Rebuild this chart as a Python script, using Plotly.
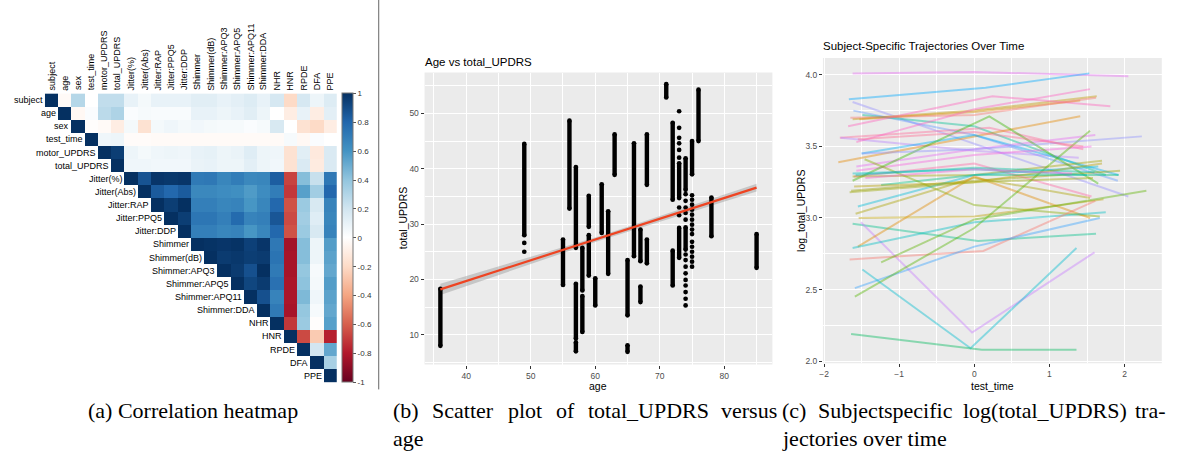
import plotly.graph_objects as go

# ---------------- (a) correlation heatmap data ----------------
var_names = ["subject", "age", "sex", "test_time", "motor_UPDRS", "total_UPDRS",
             "Jitter(%)", "Jitter(Abs)", "Jitter:RAP", "Jitter:PPQ5", "Jitter:DDP",
             "Shimmer", "Shimmer(dB)", "Shimmer:APQ3", "Shimmer:APQ5", "Shimmer:APQ11",
             "Shimmer:DDA", "NHR", "HNR", "RPDE", "DFA", "PPE"]

# upper triangle rows, starting at the diagonal
r_subject = [1, -0.03, 0.29, 0.0, 0.25, 0.25, 0.10, 0.05, 0.10, 0.10, 0.10, 0.13, 0.13, 0.10, 0.12, 0.15, 0.10, 0.18, -0.20, 0.18, 0.08, 0.15]
r_age = [1, -0.04, 0.02, 0.27, 0.31, 0.02, 0.04, 0.03, 0.03, 0.03, 0.10, 0.10, 0.08, 0.10, 0.13, 0.08, 0.0, -0.10, 0.10, -0.10, 0.12]
r_sex = [1, -0.01, -0.03, -0.10, 0.05, -0.16, 0.05, 0.07, 0.05, 0.06, 0.05, 0.04, 0.04, 0.02, 0.04, 0.17, 0.0, -0.16, -0.20, -0.10]
r_test_time = [1, 0.07, 0.08, -0.02, -0.02, -0.03, -0.03, -0.03, -0.03, -0.03, -0.03, -0.03, -0.03, -0.03, -0.03, 0.04, -0.04, 0.02, 0.0]
r_motor = [1, 0.95, 0.08, 0.05, 0.07, 0.08, 0.07, 0.10, 0.11, 0.08, 0.09, 0.14, 0.08, 0.07, -0.16, 0.13, -0.12, 0.16]
r_total = [1, 0.07, 0.07, 0.06, 0.06, 0.06, 0.09, 0.10, 0.08, 0.08, 0.12, 0.08, 0.06, -0.16, 0.16, -0.11, 0.16]
r_jit = [1, 0.87, 0.98, 0.97, 0.98, 0.71, 0.72, 0.66, 0.70, 0.65, 0.66, 0.83, -0.68, 0.43, 0.23, 0.72]
r_jitabs = [1, 0.84, 0.79, 0.84, 0.65, 0.65, 0.63, 0.62, 0.57, 0.63, 0.70, -0.71, 0.55, 0.35, 0.79]
r_rap = [1, 0.95, 1.0, 0.69, 0.69, 0.66, 0.67, 0.59, 0.66, 0.79, -0.64, 0.37, 0.17, 0.67]
r_ppq5 = [1, 0.95, 0.73, 0.73, 0.69, 0.78, 0.67, 0.69, 0.86, -0.66, 0.35, 0.14, 0.66]
r_ddp = [1, 0.69, 0.69, 0.66, 0.67, 0.59, 0.66, 0.79, -0.64, 0.37, 0.17, 0.67]
r_shim = [1, 0.99, 0.98, 0.99, 0.94, 0.98, 0.72, -0.84, 0.43, 0.08, 0.56]
r_shimdb = [1, 0.96, 0.97, 0.95, 0.96, 0.74, -0.83, 0.43, 0.08, 0.54]
r_apq3 = [1, 0.96, 0.88, 1.0, 0.71, -0.83, 0.39, 0.04, 0.52]
r_apq5 = [1, 0.92, 0.96, 0.75, -0.82, 0.41, 0.05, 0.56]
r_apq11 = [1, 0.88, 0.67, -0.82, 0.45, 0.07, 0.54]
r_dda = [1, 0.71, -0.83, 0.39, 0.04, 0.52]
r_nhr = [1, -0.71, 0.37, -0.01, 0.55]
r_hnr = [1, -0.66, -0.26, -0.78]
r_rpde = [1, 0.19, 0.52]
r_dfa = [1, 0.33]
r_ppe = [1]

corr_rows = [r_subject, r_age, r_sex, r_test_time, r_motor, r_total, r_jit, r_jitabs,
             r_rap, r_ppq5, r_ddp, r_shim, r_shimdb, r_apq3, r_apq5, r_apq11, r_dda,
             r_nhr, r_hnr, r_rpde, r_dfa, r_ppe]

cbar_ticks = [1, 0.8, 0.6, 0.4, 0.2, 0, -0.2, -0.4, -0.6, -0.8, -1]
cbar_labels = ["1", "0.8", "0.6", "0.4", "0.2", "0", "-0.2", "-0.4", "-0.6", "-0.8", "-1"]

# ---------------- (b) scatter data ----------------
# dense runs of points (age, lowest value, highest value)
run_age = [36, 49, 55, 56, 57, 57, 57, 58, 58, 59, 59, 60, 61, 62, 63, 65, 65, 66,
           67, 67, 68, 68, 71, 72, 72, 73, 73, 74, 74, 75, 76, 78, 85]
run_low = [8.0, 28.0, 19.0, 32.8, 25.7, 9.3, 7.0, 18.0, 10.5, 29.5, 20.7, 15.3, 28.4, 21.0, 38.9, 13.5, 6.9, 24.2,
           23.3, 15.9, 37.1, 22.9, 52.9, 34.4, 18.9, 34.7, 23.9, 36.2, 25.4, 39.0, 45.0, 27.8, 22.1]
run_high = [18.3, 44.5, 27.2, 48.7, 40.3, 19.2, 8.6, 25.7, 17.0, 35.1, 28.0, 20.2, 37.2, 32.3, 46.2, 23.5, 8.1, 44.6,
            29.0, 18.7, 46.2, 27.2, 55.3, 48.3, 25.2, 41.0, 29.3, 41.9, 29.4, 45.0, 54.3, 34.8, 28.2]
# separate individual points
pt_age = [49, 49,
          73, 73, 73, 73, 73, 73, 73, 73,
          74, 74, 74, 74, 74, 74, 74, 74, 74, 74, 74, 74, 74, 74,
          75, 75, 75, 75, 75, 75, 75, 75, 75, 75, 75, 75, 75, 75, 75]
pt_value = [26.6, 25.0,
            50.4, 47.4, 45.6, 44.6, 43.4, 42.0, 33.0, 31.6,
            35.4, 34.2, 33.0, 32.0, 30.8, 24.5, 23.5, 22.3, 21.1, 19.9, 18.9, 17.7, 16.5, 15.3,
            35.2, 34.4, 33.5, 32.6, 31.7, 30.8, 29.9, 29.0, 28.2, 26.8, 25.9, 25.0, 24.1, 23.2, 22.3]
fit_age = [36, 85]
fit_value = [18.2, 36.6]
band_age = [36, 60.5, 85]
band_low = [17.2, 26.95, 35.9]
band_high = [19.2, 27.75, 37.3]

# ---------------- (c) trajectories data ----------------
traj_time = [
    [-1.62, 0.0, 2.05], [-1.67, 0.15, 1.53], [-1.62, 0.0, 2.05], [-1.61, 0.0, 1.91],
    [-1.62, 0.0, 1.63], [-1.53, 0.0, 1.41], [-1.49, 0.0, 1.75], [-1.68, 0.24, 1.81],
    [-1.79, 0.2, 1.45], [-1.78, 0.0, 1.39], [-1.57, 0.0, 1.54], [-1.81, 0.0, 1.41],
    [-1.50, 0.0, 1.92], [-1.57, 0.0, 1.61], [-1.57, 0.0, 1.56], [-1.60, 0.0, 1.56],
    [-1.62, 0.2, 1.65], [-1.62, 0.0, 1.70], [-1.64, 0.0, 1.94], [-1.24, 0.0, 1.92],
    [-1.46, 0.0, 1.67], [-1.55, 0.0, 1.65], [-1.58, 0.0, 1.54], [-1.54, 0.0, 1.72],
    [-1.62, 0.05, 1.62], [-1.51, -0.03, 1.60], [-1.55, 0.0, 1.54], [-1.62, 0.0, 1.75],
    [-1.66, 0.12, 1.61], [-1.24, 0.0, 2.29], [-1.59, 0.0, 1.67], [-1.59, 0.0, 1.54],
    [-1.49, -0.05, 1.36], [-1.64, 0.1, 1.36], [-1.50, 0.0, 2.23], [-1.65, 0.0, 1.62],
    [-1.58, 0.0, 1.60], [-1.60, 0.0, 1.70], [-1.55, 0.0, 1.45], [-1.62, 0.0, 1.50],
    [-1.66, 0.0, 1.58], [-1.45, 0.0, 1.30],
]
traj_value = [
    [4.01, 4.02, 3.99], [3.83, 3.91, 4.01], [3.81, 3.52, 3.15], [3.75, 3.58, 3.26],
    [3.69, 3.75, 3.85], [3.69, 3.74, 3.82], [3.72, 3.64, 3.30], [3.64, 3.85, 3.78],
    [3.56, 3.63, 3.48], [3.56, 3.47, 3.42], [3.53, 3.76, 3.90], [3.39, 3.57, 3.71],
    [3.45, 3.58, 3.30], [3.36, 3.48, 3.58], [3.33, 3.44, 3.50], [3.29, 3.38, 3.15],
    [3.26, 3.71, 3.24], [3.29, 3.30, 3.40], [3.19, 3.26, 3.33], [3.23, 3.30, 3.30],
    [3.41, 3.09, 3.01], [3.08, 3.30, 3.36], [3.03, 3.28, 3.14], [3.00, 3.01, 3.13],
    [2.96, 2.84, 2.89], [2.97, 2.20, 2.76], [2.80, 3.29, 3.00], [2.79, 2.97, 3.04],
    [2.71, 2.77, 3.12], [2.69, 2.99, 3.19], [2.51, 2.80, 3.00], [2.45, 2.93, 3.61],
    [2.64, 2.09, 2.79], [2.19, 2.08, 2.08], [3.45, 3.48, 3.57], [3.70, 3.72, 3.84],
    [3.30, 3.35, 3.32], [3.22, 3.25, 3.38], [3.55, 3.60, 3.50], [3.31, 3.34, 3.30],
    [3.18, 3.25, 3.28], [3.28, 3.34, 3.31],
]
traj_colors = [
    "#E76BF3", "#00A9FF", "#9590FF", "#619CFF", "#C49A00", "#D89000", "#00C094", "#FF62BC",
    "#FF6A98", "#B983FF", "#FF61C3", "#E58700", "#00B0F6", "#E76BF3", "#F763E0", "#FF67A4",
    "#39B600", "#A3A500", "#999F00", "#00BF7D", "#85AD00", "#00BCD8", "#ABA300", "#BFA000",
    "#00C08B", "#C77CFF", "#E08B00", "#00BFC4", "#F8766D", "#5EB300", "#35A2FF", "#53B400",
    "#00BDD0", "#00BA5E", "#8F91FF", "#F8766D", "#00C1A3", "#B79F00", "#FF6C91", "#00BFC4",
    "#9CA700", "#FB61D7",
]

# ---------------- figure ----------------
W, H = 1184, 456
FONT = "Liberation Sans, Arial, Helvetica, sans-serif"
SERIF = "Liberation Serif, Times New Roman, serif"

def px(xp):
    return xp / W

def py(yp):
    return 1 - yp / H

def hex_rgba(h, a):
    h = h.lstrip("#")
    return "rgba(%d,%d,%d,%.2f)" % (int(h[0:2], 16), int(h[2:4], 16), int(h[4:6], 16), a)

n = len(var_names)
z = []
for i in range(n):
    row = [None] * i + list(corr_rows[i])
    z.append(row)

rdbu = ["#67001F", "#B2182B", "#D6604D", "#F4A582", "#FDDBC7", "#FFFFFF",
        "#D1E5F0", "#92C5DE", "#4393C3", "#2166AC", "#053061"]
colorscale = [[k / 10, c] for k, c in enumerate(rdbu)]

fig = go.Figure()

fig.add_trace(go.Heatmap(
    z=z, x=list(range(n)), y=list(range(n)), zmin=-1, zmax=1,
    colorscale=colorscale, xaxis="x", yaxis="y", hoverongaps=False,
    colorbar=dict(x=px(339), xanchor="left", xpad=0, y=py(94), yanchor="top", ypad=0,
                  len=(385 - 94) / H, lenmode="fraction", thickness=11,
                  outlinecolor="#777", outlinewidth=1,
                  tickvals=cbar_ticks, ticktext=cbar_labels, ticks="outside", ticklen=3,
                  tickcolor="#555", tickfont=dict(family=FONT, size=8, color="#333")),
))

# scatter runs
sx, sy = [], []
for a, lo, hi in zip(run_age, run_low, run_high):
    sx += [a, a, None]
    sy += [lo, hi, None]

fig.add_trace(go.Scatter(x=band_age + band_age[::-1], y=band_high + band_low[::-1],
                         fill="toself", fillcolor="rgba(153,153,153,0.45)", line=dict(width=0),
                         mode="lines", xaxis="x2", yaxis="y2", hoverinfo="skip"))
fig.add_trace(go.Scatter(x=sx, y=sy, mode="lines+markers", line=dict(color="black", width=4.4),
                         marker=dict(color="black", size=4.7), xaxis="x2", yaxis="y2"))
fig.add_trace(go.Scatter(x=pt_age, y=pt_value, mode="markers",
                         marker=dict(color="black", size=4.7), xaxis="x2", yaxis="y2"))
fig.add_trace(go.Scatter(x=fit_age, y=fit_value, mode="lines",
                         line=dict(color="#EE4422", width=2.2), xaxis="x2", yaxis="y2"))

for tx, tv, c in zip(traj_time, traj_value, traj_colors):
    fig.add_trace(go.Scatter(x=tx, y=tv, mode="lines",
                             line=dict(color=hex_rgba(c, 0.42), width=2),
                             xaxis="x3", yaxis="y3"))

gg_axis = dict(showgrid=True, gridcolor="white", gridwidth=1.1, zeroline=False, showline=False,
               ticks="outside", ticklen=3, tickwidth=1, tickcolor="#333",
               tickfont=dict(family=FONT, size=8.5, color="#4D4D4D"))

fig.update_layout(
    width=W, height=H, margin=dict(l=0, r=0, t=0, b=0),
    paper_bgcolor="white", plot_bgcolor="white", showlegend=False,
    xaxis=dict(domain=[px(41), px(334)], range=[-0.5, n - 0.5], visible=False, anchor="y"),
    yaxis=dict(domain=[py(385), py(94)], range=[n - 0.5, -0.5], visible=False, anchor="x"),
    xaxis2=dict(gg_axis, domain=[px(422), px(771)], range=[33.55, 87.45], anchor="y2",
                tickvals=[40, 50, 60, 70, 80],
                minor=dict(showgrid=True, gridcolor="white", gridwidth=0.5, tickvals=[35, 45, 55, 65, 75, 85])),
    yaxis2=dict(gg_axis, domain=[py(367), py(73)], range=[4.6, 57.4], anchor="x2",
                tickvals=[10, 20, 30, 40, 50],
                minor=dict(showgrid=True, gridcolor="white", gridwidth=0.5, tickvals=[5, 15, 25, 35, 45, 55])),
    xaxis3=dict(gg_axis, domain=[px(821.7), px(1161.7)], range=[-2.015, 2.495], anchor="y3",
                tickvals=[-2, -1, 0, 1, 2],
                minor=dict(showgrid=True, gridcolor="white", gridwidth=0.5, tickvals=[-1.5, -0.5, 0.5, 1.5])),
    yaxis3=dict(gg_axis, domain=[py(365.7), py(58.3)], range=[1.985, 4.118], anchor="x3",
                tickvals=[2.0, 2.5, 3.0, 3.5, 4.0], ticktext=["2.0", "2.5", "3.0", "3.5", "4.0"],
                minor=dict(showgrid=True, gridcolor="white", gridwidth=0.5, tickvals=[2.25, 2.75, 3.25, 3.75])),
)

shapes = [
    dict(type="rect", xref="x2 domain", yref="y2 domain", x0=0, x1=1, y0=0, y1=1,
         fillcolor="#EBEBEB", line=dict(width=0), layer="below"),
    dict(type="rect", xref="x3 domain", yref="y3 domain", x0=0, x1=1, y0=0, y1=1,
         fillcolor="#EBEBEB", line=dict(width=0), layer="below"),
    dict(type="line", xref="paper", yref="paper", x0=px(376), x1=px(376), y0=py(392), y1=1,
         line=dict(color="#666", width=1)),
]
fig.update_layout(shapes=shapes)

ann = []
for i, name in enumerate(var_names):
    ann.append(dict(x=i - 0.5, y=i, xref="x", yref="y", text=name, showarrow=False,
                    xanchor="right", yanchor="middle", xshift=-1, borderpad=0,
                    font=dict(family=FONT, size=9, color="black")))
    ann.append(dict(x=i, y=-0.5, xref="x", yref="y", text=name, showarrow=False,
                    textangle=-90, xanchor="center", yanchor="bottom", yshift=2, borderpad=0,
                    font=dict(family=FONT, size=9, color="black")))

def label(text, x, y, size, xanchor="left", angle=0, color="black", family=FONT):
    return dict(x=px(x), y=py(y), xref="paper", yref="paper", text=text, showarrow=False,
                xanchor=xanchor, yanchor="middle", textangle=angle, borderpad=0,
                font=dict(family=family, size=size, color=color))

ann += [
    label("Age vs total_UPDRS", 421, 62, 11.5),
    label("age", 596.5, 389, 10.5, xanchor="center"),
    label("total_UPDRS", 400, 220, 10.5, xanchor="center", angle=-90),
    label("Subject-Specific Trajectories Over Time", 821, 46, 11.5),
    label("test_time", 991.7, 389, 10.5, xanchor="center"),
    label("log_total_UPDRS", 799, 212, 10.5, xanchor="center", angle=-90),
]

# caption words (justified lines as in the source page)
CAP = 22
ann.append(label("(a) Correlation heatmap", 190, 413, CAP, xanchor="center", family=SERIF))
cap_b = [("(b)", 389, "left"), ("Scatter", 428.9, "left"), ("plot", 504.3, "left"),
         ("of", 552.8, "left"), ("total_UPDRS", 585.4, "left"), ("versus", 777, "right")]
cap_c = [("(c)", 780, "left"), ("Subjectspecific", 815.7, "left"),
         ("log(total_UPDRS)", 961.4, "left"), ("tra-", 1167, "right")]
for t, x, xa in cap_b + cap_c:
    ann.append(label(t, x, 413, CAP, xanchor=xa, family=SERIF))
ann.append(label("age", 389, 441, CAP, family=SERIF))
ann.append(label("jectories over time", 780, 441, CAP, family=SERIF))

fig.update_layout(annotations=ann)
fig.write_html("out.html", config={"displayModeBar": False},
               post_script="document.body.style.margin='0';document.body.style.overflow='hidden';")
